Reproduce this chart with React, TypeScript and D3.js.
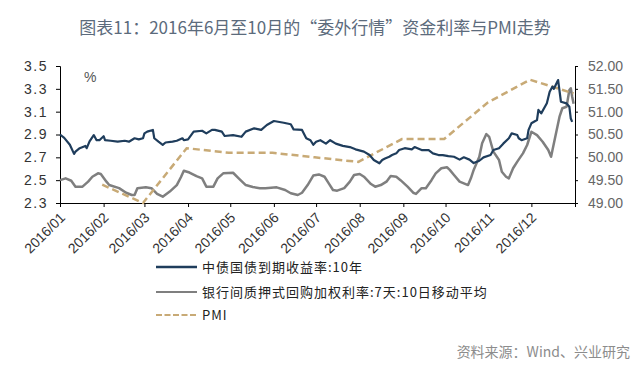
import * as d3 from 'd3';
import { useEffect, useRef } from 'react';

const title = '图表11：2016年6月至10月的“委外行情”资金利率与PMI走势';
const source = '资料来源：Wind、兴业研究';
const seriesNames = [
  '中债国债到期收益率:10年',
  '银行间质押式回购加权利率:7天:10日移动平均',
  'PMI',
];

const monthTicks = [
  '2016-01-01', '2016-02-01', '2016-03-01', '2016-04-01', '2016-05-01', '2016-06-01',
  '2016-07-01', '2016-08-01', '2016-09-01', '2016-10-01', '2016-11-01', '2016-12-01',
  '2017-01-01',
];
const leftTicks = [2.3, 2.5, 2.7, 2.9, 3.1, 3.3, 3.5];
const rightTicks = [49, 49.5, 50, 50.5, 51, 51.5, 52];

// 中债国债到期收益率:10年 (%)
const bondYield: [string, number][] = [
  ['2016-01-01', 2.9], ['2016-01-04', 2.87], ['2016-01-08', 2.81], ['2016-01-11', 2.73],
  ['2016-01-12', 2.75], ['2016-01-15', 2.78], ['2016-01-19', 2.8], ['2016-01-20', 2.78],
  ['2016-01-22', 2.84], ['2016-01-25', 2.895], ['2016-01-27', 2.85], ['2016-01-29', 2.85],
  ['2016-02-01', 2.885], ['2016-02-02', 2.85], ['2016-02-06', 2.845], ['2016-02-11', 2.837],
  ['2016-02-16', 2.845], ['2016-02-19', 2.837], ['2016-02-23', 2.867], ['2016-02-26', 2.857],
  ['2016-02-29', 2.867], ['2016-03-01', 2.91], ['2016-03-03', 2.925], ['2016-03-07', 2.94],
  ['2016-03-08', 2.867], ['2016-03-11', 2.837], ['2016-03-14', 2.81], ['2016-03-16', 2.83],
  ['2016-03-21', 2.837], ['2016-03-24', 2.845], ['2016-03-28', 2.867], ['2016-03-29', 2.85],
  ['2016-04-01', 2.857], ['2016-04-05', 2.925], ['2016-04-11', 2.933], ['2016-04-14', 2.91],
  ['2016-04-18', 2.94], ['2016-04-20', 2.94], ['2016-04-25', 2.925], ['2016-04-27', 2.887],
  ['2016-05-03', 2.895], ['2016-05-09', 2.88], ['2016-05-12', 2.925], ['2016-05-18', 2.954],
  ['2016-05-23', 2.94], ['2016-05-27', 2.983], ['2016-06-01', 3.018], ['2016-06-08', 3.003],
  ['2016-06-13', 2.99], ['2016-06-15', 2.945], ['2016-06-21', 2.94], ['2016-06-24', 2.867],
  ['2016-06-27', 2.85], ['2016-06-29', 2.81], ['2016-07-01', 2.837], ['2016-07-04', 2.85],
  ['2016-07-08', 2.82], ['2016-07-11', 2.85], ['2016-07-15', 2.82], ['2016-07-20', 2.8],
  ['2016-07-25', 2.79], ['2016-07-29', 2.77], ['2016-08-04', 2.75], ['2016-08-08', 2.72],
  ['2016-08-11', 2.677], ['2016-08-15', 2.648], ['2016-08-17', 2.677], ['2016-08-19', 2.69],
  ['2016-08-22', 2.705], ['2016-08-24', 2.72], ['2016-08-27', 2.735], ['2016-08-29', 2.764],
  ['2016-09-02', 2.78], ['2016-09-07', 2.77], ['2016-09-09', 2.79], ['2016-09-14', 2.764],
  ['2016-09-19', 2.764], ['2016-09-22', 2.735], ['2016-09-26', 2.72], ['2016-09-29', 2.72],
  ['2016-10-03', 2.71], ['2016-10-07', 2.705], ['2016-10-11', 2.68], ['2016-10-14', 2.7],
  ['2016-10-18', 2.68], ['2016-10-21', 2.65], ['2016-10-25', 2.67], ['2016-10-28', 2.7],
  ['2016-11-02', 2.72], ['2016-11-04', 2.764], ['2016-11-08', 2.78], ['2016-11-11', 2.82],
  ['2016-11-15', 2.867], ['2016-11-17', 2.91], ['2016-11-21', 2.895], ['2016-11-22', 2.867],
  ['2016-11-24', 2.85], ['2016-11-28', 2.867], ['2016-11-29', 2.94], ['2016-12-01', 2.998],
  ['2016-12-05', 3.027], ['2016-12-06', 3.115], ['2016-12-08', 3.085], ['2016-12-12', 3.173],
  ['2016-12-14', 3.275], ['2016-12-16', 3.32], ['2016-12-17', 3.3], ['2016-12-20', 3.377],
  ['2016-12-22', 3.187], ['2016-12-26', 3.173], ['2016-12-28', 3.143], ['2016-12-29', 3.04],
  ['2016-12-30', 3.01],
];

// 银行间质押式回购加权利率:7天:10日移动平均 (%)
const repoRate: [string, number][] = [
  ['2016-01-01', 2.5], ['2016-01-05', 2.516], ['2016-01-09', 2.495], ['2016-01-12', 2.443],
  ['2016-01-17', 2.443], ['2016-01-21', 2.487], ['2016-01-24', 2.53], ['2016-01-28', 2.56],
  ['2016-01-30', 2.554], ['2016-02-03', 2.487], ['2016-02-05', 2.458], ['2016-02-12', 2.43],
  ['2016-02-17', 2.39], ['2016-02-21', 2.37], ['2016-02-23', 2.37], ['2016-02-25', 2.43],
  ['2016-03-02', 2.437], ['2016-03-06', 2.43], ['2016-03-10', 2.38], ['2016-03-14', 2.355],
  ['2016-03-19', 2.4], ['2016-03-24', 2.457], ['2016-03-27', 2.528], ['2016-03-29', 2.583],
  ['2016-04-02', 2.567], ['2016-04-07', 2.536], ['2016-04-11', 2.516], ['2016-04-14', 2.443],
  ['2016-04-19', 2.443], ['2016-04-22', 2.516], ['2016-04-26', 2.56], ['2016-05-03', 2.565],
  ['2016-05-07', 2.516], ['2016-05-12', 2.457], ['2016-05-17', 2.44], ['2016-05-22', 2.43],
  ['2016-05-26', 2.43], ['2016-06-03', 2.437], ['2016-06-09', 2.414], ['2016-06-13', 2.385],
  ['2016-06-18', 2.37], ['2016-06-21', 2.39], ['2016-06-25', 2.457], ['2016-06-29', 2.54],
  ['2016-07-03', 2.55], ['2016-07-07', 2.53], ['2016-07-10', 2.472], ['2016-07-13', 2.414],
  ['2016-07-16', 2.408], ['2016-07-21', 2.43], ['2016-07-25', 2.487], ['2016-07-28', 2.545],
  ['2016-08-01', 2.554], ['2016-08-04', 2.53], ['2016-08-09', 2.466], ['2016-08-12', 2.443],
  ['2016-08-16', 2.457], ['2016-08-20', 2.487], ['2016-08-23', 2.536], ['2016-08-27', 2.53],
  ['2016-08-30', 2.5], ['2016-09-04', 2.443], ['2016-09-08', 2.39], ['2016-09-10', 2.38],
  ['2016-09-14', 2.43], ['2016-09-17', 2.43], ['2016-09-21', 2.5], ['2016-09-24', 2.56],
  ['2016-09-28', 2.604], ['2016-10-02', 2.613], ['2016-10-04', 2.59], ['2016-10-07', 2.545],
  ['2016-10-11', 2.487], ['2016-10-14', 2.472], ['2016-10-17', 2.457], ['2016-10-19', 2.516],
  ['2016-10-21', 2.59], ['2016-10-25', 2.705], ['2016-10-27', 2.823], ['2016-10-30', 2.904],
  ['2016-11-01', 2.88], ['2016-11-03', 2.793], ['2016-11-04', 2.75], ['2016-11-08', 2.677],
  ['2016-11-10', 2.574], ['2016-11-13', 2.53], ['2016-11-15', 2.516], ['2016-11-18', 2.604],
  ['2016-11-21', 2.662], ['2016-11-25', 2.735], ['2016-11-28', 2.808], ['2016-12-01', 2.924],
  ['2016-12-05', 2.895], ['2016-12-09', 2.837], ['2016-12-13', 2.764], ['2016-12-15', 2.705],
  ['2016-12-16', 2.764], ['2016-12-19', 2.94], ['2016-12-21', 3.056], ['2016-12-23', 3.13],
  ['2016-12-26', 3.143], ['2016-12-28', 3.29], ['2016-12-29', 3.305], ['2016-12-30', 3.23],
  ['2016-12-31', 3.17],
];

// PMI, right axis
const pmiDates = [
  '2016-01-31', '2016-02-29', '2016-03-31', '2016-04-30', '2016-05-31', '2016-06-30',
  '2016-07-31', '2016-08-31', '2016-09-30', '2016-10-31', '2016-11-30', '2016-12-31',
];
const pmiValues = [49.4, 49.0, 50.2, 50.1, 50.1, 50.0, 49.9, 50.4, 50.4, 51.2, 51.7, 51.4];

const NAVY = '#1f3d5c';
const GRAY = '#7f7f7f';
const TAN = '#c8aa76';
const CJK = '"Noto Sans CJK SC", sans-serif';

export default function App() {
  const width = 640;
  const height = 374;
  const ref = useRef<SVGSVGElement>(null);

  useEffect(() => {
    const svg = d3.select(ref.current);
    svg.selectAll('*').remove();

    const parse = d3.timeParse('%Y-%m-%d');
    const x = d3
      .scaleTime()
      .domain([parse('2016-01-01')!, parse('2017-01-01')!])
      .range([60, 575]);
    const yL = d3.scaleLinear().domain([2.3, 3.5]).range([203, 66]);
    const yR = d3.scaleLinear().domain([49, 52]).range([203, 66]);

    // title
    svg
      .append('text')
      .attr('x', 315)
      .attr('y', 34)
      .attr('text-anchor', 'middle')
      .attr('font-family', CJK)
      .attr('font-size', 17)
      .attr('fill', '#5c6b7c')
      .text(title);

    // axes
    const left = svg
      .append('g')
      .attr('transform', 'translate(60,0)')
      .call(
        d3
          .axisLeft(yL)
          .tickValues(leftTicks)
          .tickSize(4)
          .tickPadding(8)
          .tickFormat(d3.format('.1f') as any),
      );
    left
      .selectAll('text')
      .attr('font-family', '"Liberation Sans", sans-serif')
      .attr('font-size', 14)
      .attr('letter-spacing', 1.5)
      .attr('fill', '#333');

    const right = svg
      .append('g')
      .attr('transform', 'translate(575,0)')
      .call(
        d3
          .axisRight(yR)
          .tickValues(rightTicks)
          .tickSize(3)
          .tickPadding(10)
          .tickFormat(d3.format('.2f') as any),
      );
    right
      .selectAll('text')
      .attr('font-family', '"Liberation Sans", sans-serif')
      .attr('font-size', 14)
      .attr('fill', '#666');

    const bottom = svg
      .append('g')
      .attr('transform', 'translate(0,203)')
      .call(
        d3
          .axisBottom(x)
          .tickValues(monthTicks.map((d) => parse(d)!))
          .tickSize(4)
          .tickFormat((d) => {
            const dt = d as Date;
            return dt.getFullYear() === 2016 ? d3.timeFormat('%Y/%m')(dt) : '';
          }),
      );
    bottom
      .selectAll('text')
      .attr('font-family', '"Liberation Sans", sans-serif')
      .attr('font-size', 14)
      .attr('fill', '#333')
      .attr('text-anchor', 'end')
      .attr('dy', '0.35em')
      .attr('y', 0)
      .attr('transform', 'translate(2,12) rotate(-45)');

    svg.selectAll('.domain, .tick line').attr('stroke', '#000');

    svg
      .append('text')
      .attr('x', 84)
      .attr('y', 82)
      .attr('font-family', '"Liberation Sans", sans-serif')
      .attr('font-size', 14)
      .attr('fill', '#555')
      .text('%');

    // lines
    const lineL = d3
      .line<[string, number]>()
      .x((d) => x(parse(d[0])!))
      .y((d) => yL(d[1]));

    svg
      .append('path')
      .datum(repoRate)
      .attr('d', lineL)
      .attr('fill', 'none')
      .attr('stroke', GRAY)
      .attr('stroke-width', 2.5)
      .attr('stroke-linejoin', 'round');

    const pmi = pmiDates.map((d, i) => ({ date: parse(d)!, value: pmiValues[i] }));
    svg
      .append('path')
      .datum(pmi)
      .attr(
        'd',
        d3
          .line<{ date: Date; value: number }>()
          .x((d) => x(d.date))
          .y((d) => yR(d.value)),
      )
      .attr('fill', 'none')
      .attr('stroke', TAN)
      .attr('stroke-width', 2.5)
      .attr('stroke-dasharray', '7,4');

    svg
      .append('path')
      .datum(bondYield)
      .attr('d', lineL)
      .attr('fill', 'none')
      .attr('stroke', NAVY)
      .attr('stroke-width', 2.2)
      .attr('stroke-linejoin', 'round');

    // legend
    const legendY = [267, 292, 315];
    const legendColor = [NAVY, GRAY, TAN];
    const legend = svg
      .append('g')
      .selectAll('g')
      .data(seriesNames)
      .join('g')
      .attr('transform', (_, i) => `translate(156,${legendY[i]})`);
    legend
      .append('line')
      .attr('x1', 0)
      .attr('x2', 41)
      .attr('stroke', (_, i) => legendColor[i])
      .attr('stroke-width', (_, i) => (i === 0 ? 2.5 : 2))
      .attr('stroke-dasharray', (_, i) => (i === 2 ? '6,2.5' : null));
    legend
      .append('text')
      .attr('x', 46)
      .attr('dy', '0.35em')
      .attr('font-family', CJK)
      .attr('font-size', 13)
      .attr('letter-spacing', 1)
      .attr('fill', '#222')
      .text((d) => d);

    // source
    svg
      .append('text')
      .attr('x', 630)
      .attr('y', 357)
      .attr('text-anchor', 'end')
      .attr('font-family', CJK)
      .attr('font-size', 14)
      .attr('fill', '#8c8c8c')
      .text(source);
  }, []);

  return (
    <svg
      ref={ref}
      width={width}
      height={height}
      style={{ position: 'absolute', left: 0, top: 0, background: '#fff' }}
    />
  );
}
